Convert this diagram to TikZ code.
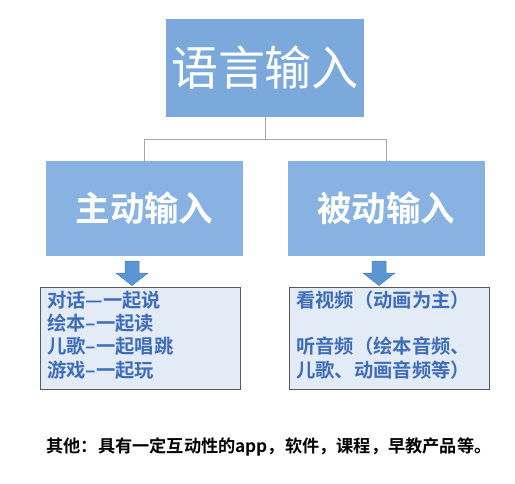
\documentclass[tikz,border=0pt]{standalone}
\usepackage{fontspec}
\newfontfamily\cjk{Noto Sans CJK SC}
\newfontfamily\cjkb{Noto Sans CJK SC Bold}
\usetikzlibrary{positioning}
\definecolor{topblue}{HTML}{7BA9DC}
\definecolor{midblue}{HTML}{88B2E1}
\definecolor{lightbox}{HTML}{E3EBF6}
\definecolor{textblue}{HTML}{3F6DB8}
\definecolor{arrowblue}{HTML}{5B96D3}
\definecolor{arrowedge}{HTML}{4A7FBA}
\definecolor{linegray}{HTML}{A6A6A6}
\definecolor{boxedge}{HTML}{5A5A5A}
\tikzset{
  bigbox/.style={draw=none, fill=topblue, minimum width=198pt, minimum height=98pt, inner sep=0pt},
  midbox/.style={draw=none, fill=midblue, minimum width=197pt, minimum height=95pt, inner sep=0pt,
    text=white, font=\cjkb\fontsize{34.5}{40}\selectfont},
  listbox/.style={draw=boxedge, line width=0.9pt, fill=lightbox, minimum width=200pt, minimum height=102pt, inner sep=0pt},
  listtext/.style={anchor=north west, inner sep=0pt, align=left, text=textblue,
    font=\cjkb\fontsize{19.3}{23.3}\selectfont},
  conn/.style={draw=linegray, line width=1pt},
  downarrow/.style={fill=arrowblue, draw=arrowedge, line width=0.5pt}
}
\begin{document}
\begin{tikzpicture}[x=1pt,y=-1pt]
\useasboundingbox[fill=white] (0,0) rectangle (515,483);
% top box
\node[bigbox, text=white, font=\cjk\fontsize{47}{50}\selectfont] (top) at (265,68) {语言输入};
% middle boxes
\node[midbox] (left) at (144.5,208.5) {主动输入};
\node[midbox] (right) at (386,208.5) {被动输入};
% connectors
\coordinate (j) at (265,139);
\coordinate (jl) at (left.north |- j);
\coordinate (jr) at (right.north |- j);
\draw[conn] (top.south) -- (j);
\draw[conn] (jl) -- (jr);
\draw[conn] (jl) -- (left.north);
\draw[conn] (jr) -- (right.north);
% list boxes
\node[listbox] (lbox) at (140.5,338) {};
\node[listbox] (rbox) at (389,338) {};
% arrows
\draw[downarrow] (125,261) -- (139,261) -- (139,273) -- (148,273) -- (132,285.5) -- (116,273) -- (125,273) -- cycle;
\draw[downarrow] (372,261) -- (386,261) -- (386,273) -- (395,273) -- (379,285.5) -- (363,273) -- (372,273) -- cycle;
% list texts
\node[listtext] (ltext) at (47,290.5) {对话—一起说\\绘本–一起读\\儿歌–一起唱跳\\游戏–一起玩};
\node[listtext] (rtext) at (296,290.5) {看视频（动画为主）\\[23.3pt]听音频（绘本音频、\\儿歌、动画音频等）};
% bottom text
\node[inner sep=0pt, font=\cjkb\fontsize{17.2}{20}\selectfont, text=black] (other) at (269,447) {其他：具有一定互动性的app，软件，课程，早教产品等。};
\end{tikzpicture}
\end{document}
